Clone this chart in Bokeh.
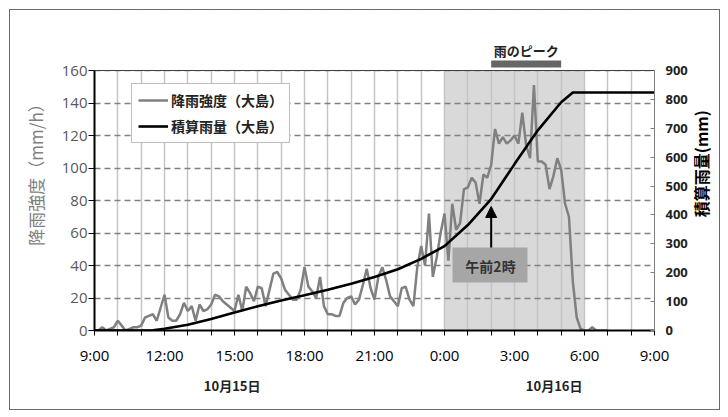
import math
from bokeh.plotting import figure
from bokeh.layouts import row
from bokeh.models import (Range1d, LinearAxis, FixedTicker, BoxAnnotation, Label,
                          Arrow, NormalHead, Legend, LegendItem, Span)
from bokeh.core.properties import value
from bokeh.embed import file_html
from bokeh.resources import INLINE

# ---------------- data ----------------
# 10-minute rainfall intensity (mm/h) at Oshima, starting 10/15 9:00
intensity_mm_h = [
    0, 0, 2, 0, 1, 2,          # 09
    6, 3, 0, 1, 2, 2,          # 10
    3, 8, 9, 10, 6, 14,        # 11
    22, 8, 6, 6, 10, 17,       # 12
    12, 15, 6, 16, 12, 13,     # 13
    16, 22, 21, 18, 16, 14,    # 14
    12, 22, 12, 27, 23, 18,    # 15
    27, 26, 15, 25, 35, 36,    # 16
    32, 25, 22, 19, 19, 25,    # 17
    39, 27, 24, 20, 33, 15,    # 18
    10, 10, 9, 9, 17, 20,      # 19
    21, 16, 19, 28, 38, 26,    # 20
    19, 33, 39, 31, 21, 18,    # 21
    15, 26, 27, 19, 15, 39,    # 22
    52, 40, 72, 33, 45, 60,    # 23
    72, 43, 78, 62, 66, 87,    # 00
    88, 94, 91, 78, 96, 94,    # 01
    102, 124, 115, 119, 115, 117,  # 02
    120, 115, 134, 114, 106, 151,  # 03
    104, 104, 102, 87, 95, 106,    # 04
    99, 78, 70, 30, 8, 1,      # 05
    0, 0, 2, 0, 0, 0,          # 06
    0,                         # 07
]
intensity_step_h = 10 / 60

# cumulative rainfall (mm), hours since 10/15 9:00
cum_hours = [0, 1, 2, 2.5, 3, 4, 5, 6, 7, 8, 9, 10, 11, 12, 13, 14, 15, 16, 17,
             18, 19, 20, 20.5, 21, 24]
cum_mm = [0, 0, 0, 1, 6, 20, 40, 62, 84, 104, 122, 141, 162, 185, 212, 248, 292,
          365, 455, 576, 693, 790, 824, 824, 824]

x_tick_labels = ["9:00", "12:00", "15:00", "18:00", "21:00", "0:00", "3:00", "6:00", "9:00"]
left_ticks = [0, 20, 40, 60, 80, 100, 120, 140, 160]
right_ticks = [0, 100, 200, 300, 400, 500, 600, 700, 800, 900]
date_labels = ["10月15日", "10月16日"]
date_label_hours = [5.9, 19.7]
shade_hours = (15, 21)      # 0:00 - 6:00
peak_hours = (17, 20)       # 2:00 - 5:00
arrow_hour = 17             # 午前2時
right_title = "積算雨量(mm)"

# ---------------- layout (absolute page pixels) ----------------
PAGE_W, PAGE_H = 728, 417
BOX_L, BOX_T, BOX_R, BOX_B = 10, 10, 719, 409      # chart area inside the page border
SPLIT = 690                                         # main figure | right-title strip
FL, FR, FT, FB = 94, 654, 70, 330                   # plot area bounded by the axes
X0, X1, Y0, Y1 = 0, 24, 0, 160
R1 = 900


def px_x(px):
    return X0 + (px - FL) / (FR - FL) * (X1 - X0)


def px_y(py):
    return Y0 + (FB - py) / (FB - FT) * (Y1 - Y0)


y_top = px_y(BOX_T)
r_top = y_top / Y1 * R1

JP = "Noto Sans CJK JP"
NUM = "Open Sans"

p = figure(width=SPLIT - BOX_L, height=BOX_B - BOX_T, output_backend="svg",
           toolbar_location=None, title=None,
           x_range=Range1d(X0, X1), y_range=Range1d(Y0, y_top),
           min_border_left=FL - BOX_L, min_border_right=SPLIT - FR, min_border_top=0,
           min_border_bottom=BOX_B - FB)
p.background_fill_color = "white"
p.border_fill_color = "white"
p.outline_line_color = None

# grids
p.xgrid.ticker = FixedTicker(ticks=list(range(0, 25)))
p.xgrid.grid_line_color = "#c4c4c4"
p.xgrid.grid_line_width = 1.5
p.ygrid.ticker = FixedTicker(ticks=left_ticks)
p.ygrid.grid_line_color = "#808080"
p.ygrid.grid_line_dash = "6 4"
p.ygrid.grid_line_width = 1.3

# x axis
xa = p.xaxis[0]
xa.ticker = FixedTicker(ticks=list(range(0, 25)))
xa.major_label_overrides = {i: (x_tick_labels[i // 3] if i % 3 == 0 else "") for i in range(25)}
xa.axis_line_color = "black"
xa.axis_line_width = 2
xa.major_tick_out = 5
xa.major_tick_in = 0
xa.major_tick_line_color = "black"
xa.minor_tick_line_color = None
xa.major_label_standoff = 9
xa.major_label_text_font = NUM
xa.major_label_text_font_size = "15px"
xa.major_label_text_color = "black"

# date axis (second row below)
da = LinearAxis(ticker=FixedTicker(ticks=date_label_hours),
                major_label_overrides={h: lab for h, lab in zip(date_label_hours, date_labels)})
da.axis_line_color = None
da.major_tick_line_color = None
da.minor_tick_line_color = None
da.major_tick_out = 0
da.major_tick_in = 0
da.major_label_standoff = 8
da.major_label_text_font = JP
da.major_label_text_font_style = "bold"
da.major_label_text_font_size = "13px"
da.major_label_text_color = "#222222"
p.add_layout(da, "below")

# left y axis
ya = p.yaxis[0]
ya.ticker = FixedTicker(ticks=left_ticks)
ya.bounds = (Y0, Y1)
ya.axis_line_color = "black"
ya.axis_line_width = 2
ya.major_tick_out = 6
ya.major_tick_in = 0
ya.major_tick_line_color = "black"
ya.minor_tick_line_color = None
ya.major_label_standoff = 1
ya.major_label_text_font = NUM
ya.major_label_text_font_size = "15px"
ya.major_label_text_color = "#595959"
ya.axis_label = "降雨強度（mm/h）"
ya.axis_label_text_font = JP
ya.axis_label_text_font_style = "normal"
ya.axis_label_text_font_size = "17px"
ya.axis_label_text_color = "#7f7f7f"
ya.axis_label_standoff = 11

# right y axis
p.extra_y_ranges = {"cum": Range1d(0, r_top)}
ra = LinearAxis(y_range_name="cum", ticker=FixedTicker(ticks=right_ticks), bounds=(0, R1))
ra.axis_line_color = "#7f7f7f"
ra.axis_line_width = 1
ra.major_tick_in = 4
ra.major_tick_out = 0
ra.major_tick_line_color = "#7f7f7f"
ra.minor_tick_line_color = None
ra.major_label_standoff = 11
ra.major_label_text_font = NUM
ra.major_label_text_font_size = "13px"
ra.major_label_text_font_style = "bold"
ra.major_label_text_color = "#222222"
p.add_layout(ra, "right")

# shaded period (under grid)
p.add_layout(BoxAnnotation(left=shade_hours[0], right=shade_hours[1], top=Y1, fill_color="#d9d9d9",
                           fill_alpha=1, line_color=None, level="image"))
# blank the grid above the plot area
p.add_layout(BoxAnnotation(bottom=Y1, fill_color="white", fill_alpha=1, line_color=None,
                           level="glyph"))
# top edge of the plot area
p.add_layout(Span(location=Y1, dimension="width", line_color="#404040", line_width=1))

# series
t_int = [i * intensity_step_h for i in range(len(intensity_mm_h))]
r_int = p.line(t_int, intensity_mm_h, line_color="#808080", line_width=2.5)
r_cum = p.line(cum_hours, cum_mm, y_range_name="cum", line_color="black", line_width=2.6)

# legend
legend = Legend(items=[LegendItem(label="降雨強度（大島）", renderers=[r_int]),
                       LegendItem(label="積算雨量（大島）", renderers=[r_cum])],
                location=(37, 187), margin=0, padding=6, spacing=6,
                glyph_width=30, glyph_height=20, label_standoff=3,
                label_text_font=JP, label_text_font_style="bold",
                label_text_font_size="14px", label_text_color="#222222",
                border_line_color="#7f7f7f", border_line_width=1,
                background_fill_color="white", background_fill_alpha=1)
p.add_layout(legend)

# peak bar & label
p.add_layout(BoxAnnotation(left=peak_hours[0], right=peak_hours[1], top=px_y(60), bottom=px_y(67),
                           fill_color="#666666", fill_alpha=1, line_color=None))
p.add_layout(Label(x=(peak_hours[0] + peak_hours[1]) / 2, y=px_y(50), text="雨のピーク",
                   text_align="center", text_baseline="middle", text_font=JP,
                   text_font_style="bold", text_font_size="13px", text_color="#222222"))

# 午前2時 box + arrow
p.add_layout(BoxAnnotation(left=px_x(452), right=px_x(527), top=px_y(247), bottom=px_y(282),
                           fill_color="#a6a6a6", fill_alpha=1, line_color=None))
p.add_layout(Label(x=px_x(490), y=px_y(265), text="午前2時", text_align="center",
                   text_baseline="middle", text_font=JP, text_font_style="bold",
                   text_font_size="14px", text_color="#333333"))
p.add_layout(Arrow(x_start=arrow_hour, y_start=px_y(247), x_end=arrow_hour, y_end=px_y(206),
                   line_color="black", line_width=2,
                   end=NormalHead(size=11, fill_color="black", line_color="black")))

# ---------------- right title strip ----------------
q = figure(width=BOX_R - SPLIT, height=BOX_B - BOX_T, output_backend="svg",
           toolbar_location=None, title=None, x_axis_location=None, y_axis_location=None,
           x_range=Range1d(SPLIT, BOX_R), y_range=Range1d(BOX_B, BOX_T),
           min_border=0, min_border_left=0, min_border_right=0, min_border_top=0,
           min_border_bottom=0)
q.outline_line_color = None
q.background_fill_color = "white"
q.border_fill_color = "white"
q.xgrid.visible = False
q.ygrid.visible = False
q.text(x=[700], y=[201], text=[right_title], angle=math.pi / 2,
       text_align="center", text_baseline="middle", text_font=value(JP),
       text_font_style="bold", text_font_size="16px", text_color="black")

layout = row(p, q, spacing=0)
layout.margin = (BOX_T, PAGE_W - BOX_R, PAGE_H - BOX_B, BOX_L)
layout.styles = {"outline": "1px solid #6a6a6a"}

open("out.html", "w").write(file_html(layout, INLINE))
